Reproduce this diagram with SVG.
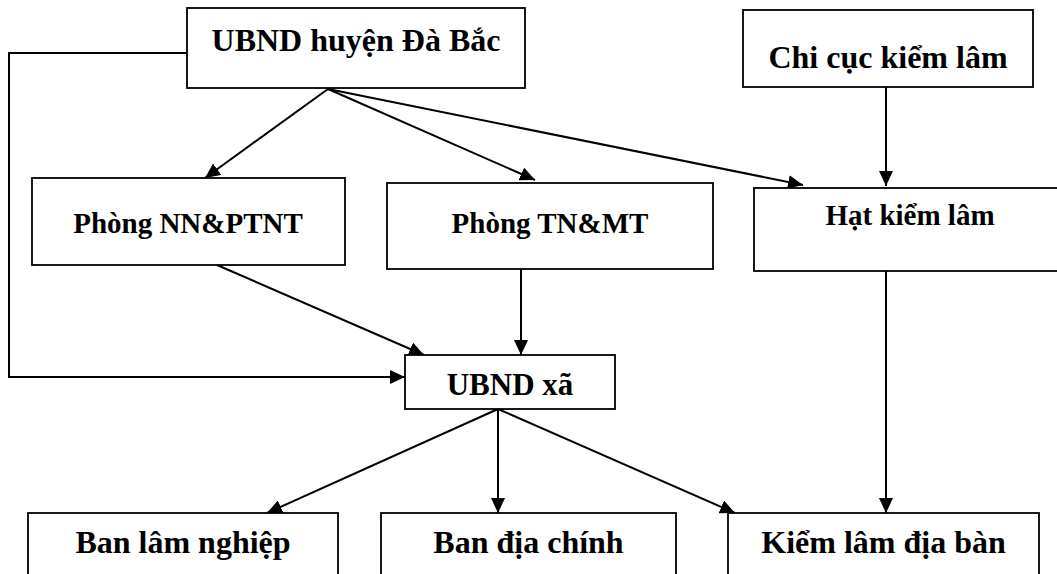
<svg xmlns="http://www.w3.org/2000/svg" width="1057" height="574" viewBox="0 0 1057 574">
<style>
.box{fill:#fff;stroke:#000;stroke-width:1.8}
.t{font-family:"Liberation Serif","Times New Roman",serif;font-weight:bold;fill:#000;text-anchor:middle}
.l{fill:none;stroke:#000;stroke-width:2}
</style>
<defs>
<marker id="ah" viewBox="0 0 15 14" refX="15" refY="7" markerWidth="15" markerHeight="14" markerUnits="userSpaceOnUse" orient="auto">
<path d="M0,0 L15,7 L0,14 z" fill="#000"/>
</marker>
</defs>
<rect width="1057" height="574" fill="#fff"/>
<g id="connectors">
<path class="l" d="M187,53 L9,53 L9,377 L405,377" marker-end="url(#ah)"/>
<path class="l" d="M328,89 L205,178" marker-end="url(#ah)"/>
<path class="l" d="M328,89 L535,180" marker-end="url(#ah)"/>
<path class="l" d="M328,89 L803,185" marker-end="url(#ah)"/>
<path class="l" d="M886,77 L886,186" marker-end="url(#ah)"/>
<path class="l" d="M217,265 L424,355" marker-end="url(#ah)"/>
<path class="l" d="M521,269 L521,355" marker-end="url(#ah)"/>
<path class="l" d="M886,271 L886,513" marker-end="url(#ah)"/>
<path class="l" d="M498,409 L267,513" marker-end="url(#ah)"/>
<path class="l" d="M498,409 L498,513" marker-end="url(#ah)"/>
<path class="l" d="M498,409 L735,513" marker-end="url(#ah)"/>
</g>
<g id="ubnd-huyen">
<rect class="box" x="187" y="8" width="338" height="80"/>
<text class="t" x="356" y="51" font-size="32">UBND huyện Đà Bắc</text>
</g>
<g id="chi-cuc">
<rect class="box" x="743" y="10" width="290" height="77"/>
<text class="t" x="888" y="68" font-size="32">Chi cục kiểm lâm</text>
</g>
<g id="phong-nn">
<rect class="box" x="32" y="178" width="313" height="87"/>
<text class="t" x="188" y="233" font-size="29">Phòng NN&amp;PTNT</text>
</g>
<g id="phong-tn">
<rect class="box" x="387" y="183" width="326" height="86"/>
<text class="t" x="550" y="233" font-size="29">Phòng TN&amp;MT</text>
</g>
<g id="hat-kiem-lam">
<rect class="box" x="754" y="188" width="313" height="83"/>
<text class="t" x="910" y="225" font-size="29">Hạt kiểm lâm</text>
</g>
<g id="ubnd-xa">
<rect class="box" x="405" y="355" width="210" height="54"/>
<text class="t" x="510" y="395" font-size="31">UBND xã</text>
</g>
<g id="ban-lam-nghiep">
<rect class="box" x="28" y="513" width="310" height="70"/>
<text class="t" x="183" y="553" font-size="32">Ban lâm nghiệp</text>
</g>
<g id="ban-dia-chinh">
<rect class="box" x="381" y="513" width="295" height="70"/>
<text class="t" x="528.5" y="553" font-size="32">Ban địa chính</text>
</g>
<g id="kiem-lam-dia-ban">
<rect class="box" x="728" y="513" width="311" height="70"/>
<text class="t" x="883.5" y="553" font-size="32">Kiểm lâm địa bàn</text>
</g>
</svg>
